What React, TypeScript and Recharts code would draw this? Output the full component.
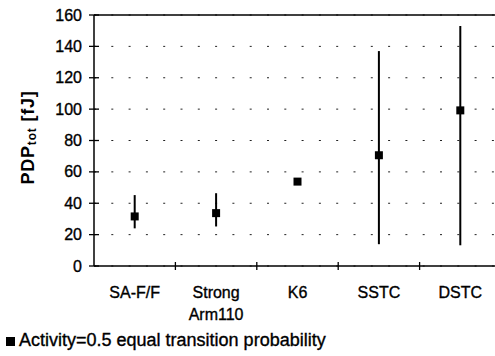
import React from "react";
import {
  ScatterChart,
  Scatter,
  XAxis,
  YAxis,
  ZAxis,
  CartesianGrid,
  ErrorBar,
  ReferenceLine,
  Legend,
} from "recharts";

const categories = ["SA-F/F", "Strong\nArm110", "K6", "SSTC", "DSTC"];
const values = [31.6, 33.7, 53.8, 70.6, 99.2];
const lows = [24.0, 25.2, 53.8, 13.9, 13.2];
const highs = [45.2, 46.4, 53.8, 137.0, 153.0];
const yTicks = [0, 20, 40, 60, 80, 100, 120, 140, 160];
const seriesName = "Activity=0.5 equal transition probability";

const rows = categories.map((c, i) => ({
  x: i + 0.5,
  y: values[i],
  err: [values[i] - lows[i], highs[i] - values[i]],
}));

const xTicks: number[] = [];
for (let i = 0; i < categories.length; i++) {
  xTicks.push(i + 0.5);
  if (i + 1 < categories.length) xTicks.push(i + 1);
}

const FONT = "'Liberation Sans', Arial, sans-serif";
const Y_TICK_SIZE = 5;
const Y_TICK_MARGIN = 7;
const X_TICK_SIZE = 5;
const X_TICK_MARGIN = 16;

const YTick = (props: any) => {
  const { x, y, payload } = props;
  const axisX = x + Y_TICK_SIZE + Y_TICK_MARGIN;
  return (
    <g>
      <line x1={axisX - 5} x2={axisX + 5} y1={y} y2={y} stroke="#000" strokeWidth={1.3} />
      <text
        x={x}
        y={y}
        dy="0.35em"
        textAnchor="end"
        fontFamily={FONT}
        fontSize={16}
        fill="#000"
        stroke="#000"
        strokeWidth={0.35}
      >
        {payload.value}
      </text>
    </g>
  );
};

const XTick = (props: any) => {
  const { x, y, payload } = props;
  const v = payload.value as number;
  const axisY = y - X_TICK_SIZE - X_TICK_MARGIN;
  if (Number.isInteger(v)) {
    return <line x1={x} x2={x} y1={axisY - 4} y2={axisY + 4} stroke="#000" strokeWidth={1.3} />;
  }
  const label = categories[Math.floor(v)] || "";
  const lines = label.split("\n");
  return (
    <text
      x={x}
      y={y}
      textAnchor="middle"
      fontFamily={FONT}
      fontSize={16}
      fill="#000"
      stroke="#000"
      strokeWidth={0.35}
    >
      {lines.map((l, i) => (
        <tspan key={i} x={x} dy={i === 0 ? "0.71em" : 22}>
          {l}
        </tspan>
      ))}
    </text>
  );
};

const YLabel = (props: any) => {
  const vb = props.viewBox || { x: 0, y: 0, width: 0, height: 0 };
  const cx = vb.x + 28;
  const cy = vb.y + vb.height / 2 - 3;
  return (
    <text
      x={cx}
      y={cy}
      transform={`rotate(-90, ${cx}, ${cy})`}
      textAnchor="middle"
      dominantBaseline="central"
      fontFamily={FONT}
      fontWeight="bold"
      fontSize={18}
      letterSpacing={0.8}
      fill="#000"
    >
      PDP
      <tspan fontSize={12} dy={4}>tot</tspan>
      <tspan dy={-4}> [fJ]</tspan>
    </text>
  );
};

export default function App() {
  return (
    <div style={{ position: "absolute", left: 0, top: 0, width: 495, height: 356, overflow: "hidden", background: "#fff" }}>
      <ScatterChart width={501} height={356} margin={{ top: 15, right: 0, bottom: 6, left: 0 }}>
        <CartesianGrid vertical={false} strokeDasharray="2 15.3" stroke="#222" />
        <XAxis
          type="number"
          dataKey="x"
          domain={[0, categories.length]}
          ticks={xTicks}
          interval={0}
          tick={<XTick />}
          tickLine={false}
          tickSize={X_TICK_SIZE}
          tickMargin={X_TICK_MARGIN}
          height={64}
          axisLine={{ stroke: "#000", strokeWidth: 1.5 }}
        />
        <YAxis
          type="number"
          dataKey="y"
          domain={[0, 160]}
          ticks={yTicks}
          interval={0}
          width={94}
          tick={<YTick />}
          tickLine={false}
          tickSize={Y_TICK_SIZE}
          tickMargin={Y_TICK_MARGIN}
          axisLine={{ stroke: "#000", strokeWidth: 1.5 }}
          label={<YLabel />}
        />
        <ZAxis range={[90, 90]} />
        <ReferenceLine y={160} stroke="#000" strokeWidth={1.3} />
        <Legend
          verticalAlign="bottom"
          align="left"
          height={20}
          iconType="square"
          iconSize={9}
          wrapperStyle={{ fontFamily: FONT, fontSize: 18, left: 6, color: "#000", WebkitTextStroke: "0.35px #000" }}
          formatter={(v: any) => <span style={{ color: "#000" }}>{v}</span>}
        />
        <Scatter
          name={seriesName}
          data={rows}
          fill="#000"
          shape="square"
          legendType="square"
          isAnimationActive={false}
        >
          <ErrorBar dataKey="err" direction="y" width={0} stroke="#000" strokeWidth={2} />
        </Scatter>
      </ScatterChart>
    </div>
  );
}
